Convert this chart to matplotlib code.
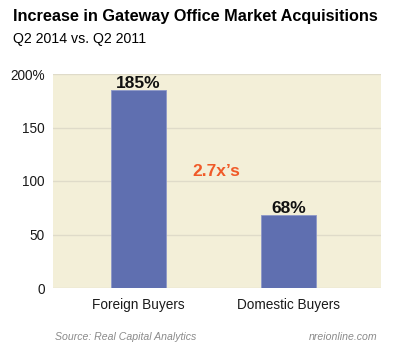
import matplotlib.pyplot as plt

categories = ["Foreign Buyers", "Domestic Buyers"]
values = [185, 68]
yticks = [0, 50, 100, 150, 200]
ytick_labels = ["0", "50", "100", "150", "200%"]

plt.rcParams['font.family'] = ['Liberation Sans', 'DejaVu Sans']

W, H = 400, 361
fig = plt.figure(figsize=(W / 100, H / 100), dpi=100)
ax = fig.add_axes([53 / W, 1 - 288 / H, (381 - 53) / W, (288 - 74) / H])

ax.set_facecolor("#f3efd8")
ax.bar(range(len(values)), values, width=0.367, color="#5f6fb0",
       edgecolor="#8d98c8", linewidth=0.6, zorder=3)
ax.set_xlim(-0.57, 1.617)
ax.set_ylim(0, 197)
ax.set_yticks(yticks)
ax.set_yticklabels(ytick_labels)
ax.set_xticks(range(len(categories)))
ax.set_xticklabels(categories)
ax.tick_params(length=0, labelsize=9.8, colors="#1a1a1a")
ax.tick_params(axis="y", pad=6)
ax.tick_params(axis="x", pad=7)
ax.grid(axis="y", color="#dfdbc9", linewidth=1, zorder=0)
for s in ax.spines.values():
    s.set_visible(False)

for i, v in enumerate(values):
    ax.text(i, v - 1, f"{v}%", ha="center", va="bottom", fontsize=12.5,
            fontweight="bold", color="#111111", zorder=4)

ax.text(0.52, 109, "2.7x\u2019s", ha="center", va="center", fontsize=12.5,
        fontweight="bold", color="#f05a28")

fig.text(13 / W, 1 - 17 / H, "Increase in Gateway Office Market Acquisitions",
         fontsize=11.7, fontweight="bold", va="center", ha="left")
fig.text(13 / W, 1 - 39 / H, "Q2 2014 vs. Q2 2011", fontsize=10.2,
         va="center", ha="left")
fig.text(55 / W, 1 - 337 / H, "Source: Real Capital Analytics", fontsize=7.6,
         style="italic", color="#8a8a8a", va="center", ha="left")
fig.text(377 / W, 1 - 337 / H, "nreionline.com", fontsize=7.6,
         style="italic", color="#8a8a8a", va="center", ha="right")

fig.savefig("out.png", dpi=100, facecolor="white")
